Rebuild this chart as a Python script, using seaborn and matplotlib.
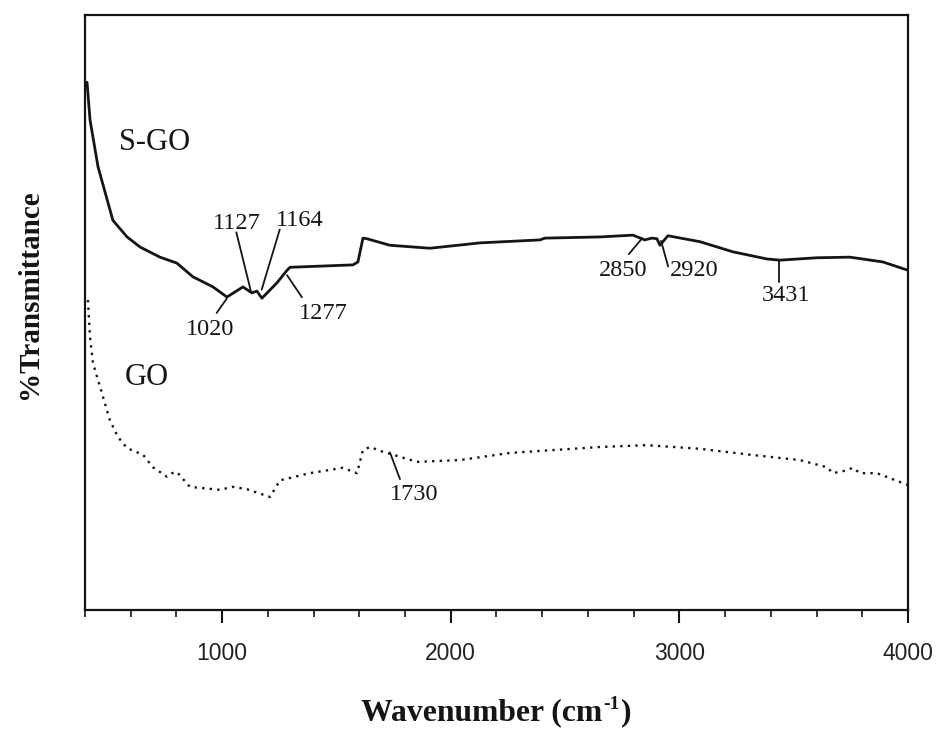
import numpy as np
import pandas as pd
import matplotlib
matplotlib.use("Agg")
import matplotlib.pyplot as plt
import seaborn as sns

# FTIR spectra (wavenumber in cm^-1, transmittance in arbitrary % units)
sgo_wn = [409, 422, 457, 522, 584, 641, 728, 802, 872, 960, 1021, 1091, 1130,
          1152, 1174, 1240, 1284, 1297, 1572, 1594, 1616, 1633, 1734, 1909,
          2128, 2390, 2412, 2653, 2797, 2849, 2880, 2902, 2915, 2950, 3090,
          3234, 3383, 3440, 3602, 3746, 3890, 4000]
sgo_t = [88.7, 82.4, 74.5, 65.5, 62.7, 61.0, 59.3, 58.3, 56.0, 54.3, 52.6, 54.3,
         53.3, 53.6, 52.4, 55.0, 57.1, 57.6, 58.0, 58.5, 62.5, 62.4, 61.3, 60.8,
         61.7, 62.2, 62.5, 62.7, 63.0, 62.2, 62.5, 62.4, 61.3, 62.9, 61.9, 60.2,
         59.0, 58.8, 59.2, 59.3, 58.5, 57.1]

go_wn = [413, 422, 435, 466, 509, 544, 584, 654, 697, 759, 781, 802, 859, 990,
         1047, 1109, 1209, 1253, 1384, 1528, 1590, 1616, 1647, 1703, 1747, 1852,
         2040, 2259, 2653, 2858, 3090, 3309, 3527, 3646, 3672, 3724, 3759, 3790,
         3864, 4000]
go_t = [52.1, 45.9, 41.5, 37.5, 31.9, 29.1, 27.2, 26.1, 24.0, 22.4, 23.0, 23.2,
        20.7, 20.2, 20.7, 20.3, 19.0, 21.8, 23.0, 23.9, 23.0, 26.9, 27.4, 26.6,
        26.1, 24.9, 25.2, 26.4, 27.4, 27.7, 27.1, 26.1, 25.2, 24.0, 23.0, 23.4,
        23.9, 23.0, 23.0, 21.0]

# Labelled absorption bands
sgo_peaks = [1020, 1127, 1164, 1277, 2850, 2920, 3431]
go_peaks = [1730]
x_ticks = [1000, 2000, 3000, 4000]
x_tick_labels = ["1000", "2000", "3000", "4000"]

INK = "#151515"

sns.set_theme(style="ticks")
plt.rcParams["font.family"] = ["Liberation Serif", "DejaVu Serif"]

df = pd.concat([
    pd.DataFrame({"wn": sgo_wn, "T": sgo_t, "sample": "S-GO"}),
    pd.DataFrame({"wn": go_wn, "T": go_t, "sample": "GO"}),
])

fig = plt.figure(figsize=(9.4, 7.31), dpi=100)
ax = fig.add_axes([0.0904, 0.1655, 0.8755, 0.814])

sns.lineplot(data=df[df["sample"] == "S-GO"], x="wn", y="T", ax=ax,
             color=INK, linewidth=2.0, estimator=None, sort=False)
sns.lineplot(data=df[df["sample"] == "GO"], x="wn", y="T", ax=ax,
             color=INK, linewidth=1.7, estimator=None, sort=False,
             linestyle=(0, (1, 2.2)))

ax.set_xlim(400, 4000)
ax.set_ylim(0, 100)
ax.set_xlabel("")


def curve_at(wn, xs, ys):
    return float(np.interp(wn, xs, ys))


# leader geometry relative to each band: start offset, end offset, text offset
leaders = {
    1020: ((0, -0.3), (-44, -2.7), (-74, -5.5)),
    1127: ((-65, 10.1), (0, 0), (-61, 11.6)),
    1164: ((88, 11.0), (9, 0.9), (175, 12.5)),
    1277: ((7, -0.5), (72, -4.2), (164, -7.0)),
    2850: ((-14, 0.2), (-71, -2.4), (-97, -5.1)),
    2920: ((0, 0.5), (31, -3.8), (144, -4.5)),
    3431: ((5, 0), (5, -3.7), (35, -5.9)),
}
for wn in sgo_peaks:
    t0 = curve_at(wn, sgo_wn, sgo_t)
    (sx, sy), (ex, ey), (tx, ty) = leaders[wn]
    ax.plot([wn + sx, wn + ex], [t0 + sy, t0 + ey], color=INK, lw=1.3)
    ax.text(wn + tx, t0 + ty, str(wn), ha="center", va="center",
            fontsize=17.5, color=INK)

for wn in go_peaks:
    t0 = curve_at(wn, go_wn, go_t)
    ax.plot([wn + 4, wn + 48], [t0 + 0.2, t0 - 4.3], color=INK, lw=1.3)
    ax.text(wn + 109, t0 - 6.8, str(wn), ha="center", va="center",
            fontsize=17.5, color=INK)

ax.text(706, 78.5, "S-GO", ha="center", va="center", fontsize=22, color=INK)
ax.text(671, 39.0, "GO", ha="center", va="center", fontsize=22, color=INK)

ax.set_xticks(x_ticks)
ax.set_xticks(np.arange(400, 4001, 200), minor=True)
ax.set_xticklabels(x_tick_labels, fontfamily="Liberation Sans",
                   fontsize=16.5, color="#222222")
ax.set_yticks([])
ax.tick_params(axis="x", which="major", direction="out", length=9, width=1.5,
               pad=14, color=INK)
ax.tick_params(axis="x", which="minor", direction="out", length=5, width=1.2,
               color=INK)

for side in ["left", "right", "top", "bottom"]:
    ax.spines[side].set_visible(True)
    ax.spines[side].set_linewidth(1.6)
    ax.spines[side].set_color(INK)

ax.set_ylabel("%Transmittance", fontsize=21, fontweight="bold", color=INK)
ax.yaxis.set_label_coords(-0.051, 0.53)

# x-axis title assembled from pieces so the exponent keeps a plain hyphen
fig.canvas.draw()
renderer = fig.canvas.get_renderer()
base_kw = dict(fontsize=22.8, fontweight="bold", color=INK, va="baseline")
sup_kw = dict(fontsize=14, fontweight="bold", color=INK, va="baseline")
baseline_y = 1 - 720 / 731
parts = [("Wavenumber (cm", base_kw, 0.0), ("-1", sup_kw, 0.015), (")", base_kw, 0.0)]
texts = []
for s, kw, dy in parts:
    t = fig.text(0, baseline_y + dy, s, ha="left", **kw)
    texts.append(t)
widths = [t.get_window_extent(renderer).width / fig.bbox.width for t in texts]
total = sum(widths) + 0.002
x = (85 + 908) / 2 / 940 - total / 2
for t, w in zip(texts, widths):
    t.set_x(x)
    x += w + 0.001

fig.savefig("out.png", dpi=100, facecolor="white")
